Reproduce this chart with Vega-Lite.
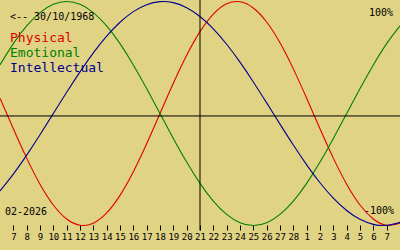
{
  "$schema": "https://vega.github.io/schema/vega-lite/v6.json",
  "width": 400,
  "height": 250,
  "autosize": {"type": "none"},
  "padding": 0,
  "background": "#e0d384",
  "config": {"view": {"stroke": null}},
  "resolve": {"axis": {"x": "independent", "y": "independent"}},
  "layer": [
    {
      "data": {
        "values": [
          {"date": "2026-02-06", "Physical": 0.13617, "Emotional": 0.43388, "Intellectual": -0.69007},
          {"date": "2026-02-07", "Physical": -0.13617, "Emotional": 0.62349, "Intellectual": -0.54064},
          {"date": "2026-02-08", "Physical": -0.3984, "Emotional": 0.78183, "Intellectual": -0.37166},
          {"date": "2026-02-09", "Physical": -0.63109, "Emotional": 0.90097, "Intellectual": -0.18925},
          {"date": "2026-02-10", "Physical": -0.81697, "Emotional": 0.97493, "Intellectual": 0},
          {"date": "2026-02-11", "Physical": -0.94226, "Emotional": 1, "Intellectual": 0.18925},
          {"date": "2026-02-12", "Physical": -0.99767, "Emotional": 0.97493, "Intellectual": 0.37166},
          {"date": "2026-02-13", "Physical": -0.97908, "Emotional": 0.90097, "Intellectual": 0.54064},
          {"date": "2026-02-14", "Physical": -0.88789, "Emotional": 0.78183, "Intellectual": 0.69007},
          {"date": "2026-02-15", "Physical": -0.73084, "Emotional": 0.62349, "Intellectual": 0.81457},
          {"date": "2026-02-16", "Physical": -0.51958, "Emotional": 0.43388, "Intellectual": 0.90963},
          {"date": "2026-02-17", "Physical": -0.2698, "Emotional": 0.22252, "Intellectual": 0.97181},
          {"date": "2026-02-18", "Physical": 0, "Emotional": 0, "Intellectual": 0.99887},
          {"date": "2026-02-19", "Physical": 0.2698, "Emotional": -0.22252, "Intellectual": 0.98982},
          {"date": "2026-02-20", "Physical": 0.51958, "Emotional": -0.43388, "Intellectual": 0.945},
          {"date": "2026-02-21", "Physical": 0.73084, "Emotional": -0.62349, "Intellectual": 0.86603},
          {"date": "2026-02-22", "Physical": 0.88789, "Emotional": -0.78183, "Intellectual": 0.75575},
          {"date": "2026-02-23", "Physical": 0.97908, "Emotional": -0.90097, "Intellectual": 0.61816},
          {"date": "2026-02-24", "Physical": 0.99767, "Emotional": -0.97493, "Intellectual": 0.45822},
          {"date": "2026-02-25", "Physical": 0.94226, "Emotional": -1, "Intellectual": 0.28173},
          {"date": "2026-02-26", "Physical": 0.81697, "Emotional": -0.97493, "Intellectual": 0.09506},
          {"date": "2026-02-27", "Physical": 0.63109, "Emotional": -0.90097, "Intellectual": -0.09506},
          {"date": "2026-02-28", "Physical": 0.3984, "Emotional": -0.78183, "Intellectual": -0.28173},
          {"date": "2026-03-01", "Physical": 0.13617, "Emotional": -0.62349, "Intellectual": -0.45822},
          {"date": "2026-03-02", "Physical": -0.13617, "Emotional": -0.43388, "Intellectual": -0.61816},
          {"date": "2026-03-03", "Physical": -0.3984, "Emotional": -0.22252, "Intellectual": -0.75575},
          {"date": "2026-03-04", "Physical": -0.63109, "Emotional": 0, "Intellectual": -0.86603},
          {"date": "2026-03-05", "Physical": -0.81697, "Emotional": 0.22252, "Intellectual": -0.945},
          {"date": "2026-03-06", "Physical": -0.94226, "Emotional": 0.43388, "Intellectual": -0.98982},
          {"date": "2026-03-07", "Physical": -0.99767, "Emotional": 0.62349, "Intellectual": -0.99887},
          {"date": "2026-03-08", "Physical": -0.97908, "Emotional": 0.78183, "Intellectual": -0.97181}
        ]
      },
      "transform": [{"fold": ["Physical", "Emotional", "Intellectual"], "as": ["series", "value"]}],
      "mark": {"type": "line", "strokeWidth": 1.1, "interpolate": "natural", "clip": true},
      "encoding": {
        "x": {
          "field": "date", "type": "temporal",
          "scale": {"type": "utc", "domain": [{"year": 2026, "month": 2, "date": 6, "utc": true}, {"year": 2026, "month": 3, "date": 8, "utc": true}], "nice": false},
          "axis": {
            "orient": "bottom", "offset": -25, "domain": false, "grid": false,
            "ticks": true, "tickSize": 5, "tickColor": "#000000", "tickWidth": 1,
            "labelFont": "DejaVu Sans Mono", "labelFontSize": 9, "labelColor": "#000000",
            "labelPadding": 2, "labelOverlap": false, "labelFlush": false,
            "labelExpr": "utcFormat(datum.value, '%-d')", "title": null,
            "values": [
              {"year": 2026, "month": 2, "date": 7, "utc": true},
              {"year": 2026, "month": 2, "date": 8, "utc": true},
              {"year": 2026, "month": 2, "date": 9, "utc": true},
              {"year": 2026, "month": 2, "date": 10, "utc": true},
              {"year": 2026, "month": 2, "date": 11, "utc": true},
              {"year": 2026, "month": 2, "date": 12, "utc": true},
              {"year": 2026, "month": 2, "date": 13, "utc": true},
              {"year": 2026, "month": 2, "date": 14, "utc": true},
              {"year": 2026, "month": 2, "date": 15, "utc": true},
              {"year": 2026, "month": 2, "date": 16, "utc": true},
              {"year": 2026, "month": 2, "date": 17, "utc": true},
              {"year": 2026, "month": 2, "date": 18, "utc": true},
              {"year": 2026, "month": 2, "date": 19, "utc": true},
              {"year": 2026, "month": 2, "date": 20, "utc": true},
              {"year": 2026, "month": 2, "date": 21, "utc": true},
              {"year": 2026, "month": 2, "date": 22, "utc": true},
              {"year": 2026, "month": 2, "date": 23, "utc": true},
              {"year": 2026, "month": 2, "date": 24, "utc": true},
              {"year": 2026, "month": 2, "date": 25, "utc": true},
              {"year": 2026, "month": 2, "date": 26, "utc": true},
              {"year": 2026, "month": 2, "date": 27, "utc": true},
              {"year": 2026, "month": 2, "date": 28, "utc": true},
              {"year": 2026, "month": 3, "date": 1, "utc": true},
              {"year": 2026, "month": 3, "date": 2, "utc": true},
              {"year": 2026, "month": 3, "date": 3, "utc": true},
              {"year": 2026, "month": 3, "date": 4, "utc": true},
              {"year": 2026, "month": 3, "date": 5, "utc": true},
              {"year": 2026, "month": 3, "date": 6, "utc": true},
              {"year": 2026, "month": 3, "date": 7, "utc": true}
            ]
          }
        },
        "y": {
          "field": "value", "type": "quantitative", "axis": null,
          "scale": {"domain": [-1.21875, 1.0134], "nice": false, "zero": false}
        },
        "color": {
          "field": "series", "type": "nominal", "legend": null,
          "scale": {"domain": ["Physical", "Emotional", "Intellectual"], "range": ["#e00000", "#008000", "#000090"]}
        }
      }
    },
    {
      "data": {"values": [{"level": -0.022}]},
      "mark": {"type": "rule", "color": "#000000", "strokeWidth": 1},
      "encoding": {"y": {"field": "level", "type": "quantitative", "axis": null}}
    },
    {
      "data": {"values": [{"date": "2026-02-21", "top": 1.02, "bottom": -1.045}]},
      "mark": {"type": "rule", "color": "#000000", "strokeWidth": 1},
      "encoding": {
        "x": {"field": "date", "type": "temporal", "axis": null},
        "y": {"field": "top", "type": "quantitative", "axis": null},
        "y2": {"field": "bottom"}
      }
    },
    {
      "data": {
        "values": [
          {"date": "2026-02-06T18:00:00Z", "value": 0.671, "series": "Physical"},
          {"date": "2026-02-06T18:00:00Z", "value": 0.543, "series": "Emotional"},
          {"date": "2026-02-06T18:00:00Z", "value": 0.404, "series": "Intellectual"}
        ]
      },
      "mark": {"type": "text", "align": "left", "baseline": "middle", "font": "DejaVu Sans Mono", "fontSize": 13},
      "encoding": {
        "x": {"field": "date", "type": "temporal", "axis": null},
        "y": {"field": "value", "type": "quantitative", "axis": null},
        "text": {"field": "series"},
        "color": {"field": "series", "type": "nominal", "legend": null}
      }
    },
    {
      "data": {
        "values": [
          {"date": "2026-02-06T18:00:00Z", "value": 0.864, "label": "<-- 30/10/1968"},
          {"date": "2026-02-06T09:00:00Z", "value": -0.879, "label": "02-2026"}
        ]
      },
      "mark": {"type": "text", "align": "left", "baseline": "middle", "font": "DejaVu Sans Mono", "fontSize": 10, "color": "#000000"},
      "encoding": {
        "x": {"field": "date", "type": "temporal", "axis": null},
        "y": {"field": "value", "type": "quantitative", "axis": null},
        "text": {"field": "label"}
      }
    },
    {
      "data": {
        "values": [
          {"date": "2026-03-07T11:24:00Z", "value": 0.9, "label": "100%"},
          {"date": "2026-03-07T13:12:00Z", "value": -0.868, "label": "-100%"}
        ]
      },
      "mark": {"type": "text", "align": "right", "baseline": "middle", "font": "DejaVu Sans Mono", "fontSize": 10, "color": "#000000"},
      "encoding": {
        "x": {"field": "date", "type": "temporal", "axis": null},
        "y": {"field": "value", "type": "quantitative", "axis": null},
        "text": {"field": "label"}
      }
    }
  ]
}
